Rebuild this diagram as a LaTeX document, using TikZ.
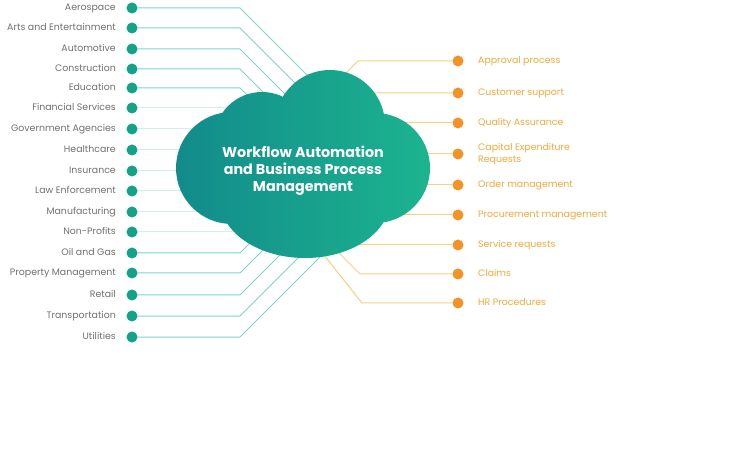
\documentclass[tikz,border=0pt]{standalone}
\usepackage{fontspec}
\setmainfont{Poppins}
\definecolor{tealdot}{HTML}{14A38A}
\definecolor{tealline}{HTML}{7ED4CA}
\definecolor{orangedot}{HTML}{F39227}
\definecolor{orangeline}{HTML}{F9CF7E}
\definecolor{greytext}{HTML}{707070}
\definecolor{orangetext}{HTML}{F5A83A}
\definecolor{cloudL}{HTML}{128B8B}
\definecolor{cloudR}{HTML}{1CB48F}
\begin{document}
\begin{tikzpicture}[x=1pt,y=-1pt,
  ldot/.style={circle,fill=tealdot,inner sep=0pt,minimum size=11pt},
  rdot/.style={circle,fill=orangedot,inner sep=0pt,minimum size=11pt},
  llab/.style={anchor=mid east,text=greytext,inner sep=0pt,font=\fontsize{9.4}{10}\selectfont},
  rlab/.style={anchor=mid west,text=orangetext,inner sep=0pt,font=\fontsize{9.4}{11.5}\selectfont},
  rlab2/.style={anchor=west,text=orangetext,inner sep=0pt,align=left,font=\fontsize{9.4}{11.5}\selectfont},
  lline/.style={draw=tealline,line width=1pt},
  rline/.style={draw=orangeline,line width=1pt},
  cloudtext/.style={text=white,align=center,font=\bfseries\fontsize{14.3}{17}\selectfont}]
\useasboundingbox (0,0) rectangle (732,468);
% left items
\foreach \i/\t/\y/\ex/\ey in {1/Aerospace/8/330/98, 2/Arts and Entertainment/28/320/108,
  3/Automotive/49/305/114, 4/Construction/69/290/119, 5/Education/88/275/123,
  6/Financial Services/108/290/108, 7/Government Agencies/129/290/129,
  8/Healthcare/150/290/150, 9/Insurance/171/290/171, 10/Law Enforcement/191/290/191,
  11/Manufacturing/212/290/212, 12/Non-Profits/232/290/232, 13/Oil and Gas/253/270/223,
  14/Property Management/273/290/223, 15/Retail/295/305/230,
  16/Transportation/316/320/236, 17/Utilities/337/335/242}{
  \node[ldot] (ld\i) at (132,\y) {};
  \node[llab] (ll\i) at (116,\y) {\t};
  \coordinate (lb\i) at (240,\y);
  \coordinate (le\i) at (\ex,\ey);
  \draw[lline] (ld\i) -- (lb\i) -- (le\i);
}
% right items
\foreach \i/\t/\y/\bx/\ex/\ey in {1/Approval process/61/358/330/89,
  2/Customer support/93/358/340/100, 3/Quality Assurance/123/360/360/123,
  5/Order management/185/360/360/185,
  6/Procurement management/215/360/360/215, 7/Service requests/245/345/345/245,
  8/Claims/274/360/330/244, 9/HR Procedures/303/362/320/250}{
  \node[rdot] (rd\i) at (458,\y) {};
  \node[rlab] (rl\i) at (478,\y) {\t};
  \coordinate (rb\i) at (\bx,\y);
  \coordinate (re\i) at (\ex,\ey);
  \draw[rline] (rd\i) -- (rb\i) -- (re\i);
}
\node[rdot] (rd4) at (458,154) {};
\node[rlab2] (rl4) at (478,154) {Capital Expenditure\\Requests};
\coordinate (re4) at (360,154);
\draw[rline] (rd4) -- (re4);
% cloud
\shade[left color=cloudL,right color=cloudR]
  (330,125) circle[radius=55pt]
  (232,168) circle[radius=56pt]
  (262,140) circle[radius=48pt]
  (375,168) circle[radius=55pt]
  (305,200) ellipse[x radius=85pt,y radius=58pt]
  (310,165) ellipse[x radius=75pt,y radius=55pt];
\node[cloudtext] (title) at (303,171) {Workflow Automation\\and Business Process\\Management};
\end{tikzpicture}
\end{document}
